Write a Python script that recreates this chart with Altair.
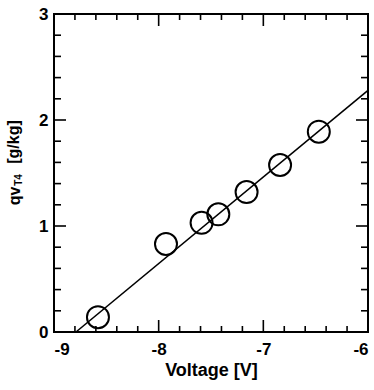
import altair as alt
import pandas as pd

# measured points
volt = [-8.58, -7.93, -7.59, -7.43, -7.16, -6.84, -6.47]
qv = [0.14, 0.83, 1.03, 1.11, 1.32, 1.575, 1.89]

# fitted line end points
fit_v = [-8.79, -6.0]
fit_q = [0.0, 2.28]

# tick positions
x_major = [-9, -8, -7, -6]
x_minor = [-8.8, -8.6, -8.4, -8.2, -7.8, -7.6, -7.4, -7.2, -6.8, -6.6, -6.4, -6.2]
y_major = [0, 1, 2, 3]
y_minor = [0.2, 0.4, 0.6, 0.8, 1.2, 1.4, 1.6, 1.8, 2.2, 2.4, 2.6, 2.8]

W, H = 314, 318
FONT = "Liberation Sans"

xs = alt.Scale(domain=[-9, -6], nice=False, zero=False)
ys = alt.Scale(domain=[0, 3], nice=False, zero=False)

pts = pd.DataFrame({"v": volt, "q": qv})
fit = pd.DataFrame({"v": fit_v, "q": fit_q})

xaxis = alt.Axis(values=x_major, ticks=False, domain=False, grid=False,
                 labelFont=FONT, labelFontSize=17, labelFontWeight="bold",
                 labelColor="black", labelPadding=9,
                 labelExpr="datum.value < 0 ? '-' + abs(datum.value) : '' + datum.value",
                 title="Voltage [V]", titleFont=FONT, titleFontSize=18,
                 titleFontWeight="bold", titleColor="black", titlePadding=4)
yaxis = alt.Axis(values=y_major, ticks=False, domain=False, grid=False,
                 labelFont=FONT, labelFontSize=17, labelFontWeight="bold",
                 labelColor="black", labelPadding=6, format="d", title=None)

base_pts = alt.Chart(pts).mark_point(shape="circle", filled=False, size=484,
                                      strokeWidth=2, color="black", opacity=1).encode(
    x=alt.X("v:Q", scale=xs, axis=xaxis),
    y=alt.Y("q:Q", scale=ys, axis=yaxis),
)

line = alt.Chart(fit).mark_line(color="black", strokeWidth=1.6).encode(
    x=alt.X("v:Q", scale=xs), y=alt.Y("q:Q", scale=ys))


def xticks(vals, L, bottom=True):
    df = pd.DataFrame({"v": vals})
    if bottom:
        y1, y2 = H, H - L
    else:
        y1, y2 = 0, L
    return alt.Chart(df).mark_rule(color="black", strokeWidth=1.6).encode(
        x=alt.X("v:Q", scale=xs), y=alt.value(y1), y2=alt.value(y2))


def yticks(vals, L, left=True):
    df = pd.DataFrame({"q": vals})
    if left:
        x1, x2 = 0, L
    else:
        x1, x2 = W, W - L
    return alt.Chart(df).mark_rule(color="black", strokeWidth=1.6).encode(
        y=alt.Y("q:Q", scale=ys), x=alt.value(x1), x2=alt.value(x2))


ticks = [
    xticks(x_major, 12, True), xticks(x_minor, 6, True),
    xticks(x_major, 12, False), xticks(x_minor, 6, False),
    yticks(y_major, 12, True), yticks(y_minor, 7, True),
    yticks(y_major, 12, False), yticks(y_minor, 7, False),
]

lab = pd.DataFrame({"t": ["[g/kg]", "T4", "qv"],
                    "px": [-40, -35, -39],
                    "py": [128, 166, 182],
                    "fs": [16, 10, 16]})


def ylab(i):
    r = lab.iloc[i]
    return alt.Chart(pd.DataFrame({"t": [r.t]})).mark_text(
        angle=270, font=FONT, fontWeight="bold", fontSize=float(r.fs),
        color="black", align="center", baseline="middle").encode(
        text="t:N", x=alt.value(float(r.px)), y=alt.value(float(r.py)))


chart = alt.layer(line, base_pts, *ticks, ylab(0), ylab(1), ylab(2)).properties(
    width=W, height=H,
    autosize=alt.AutoSizeParams(type="none"),
    padding={"left": 54, "top": 14, "right": 6, "bottom": 58},
).configure_view(stroke="black", strokeWidth=2)

chart.save("out.html", embed_options={"renderer": "svg", "actions": False})
